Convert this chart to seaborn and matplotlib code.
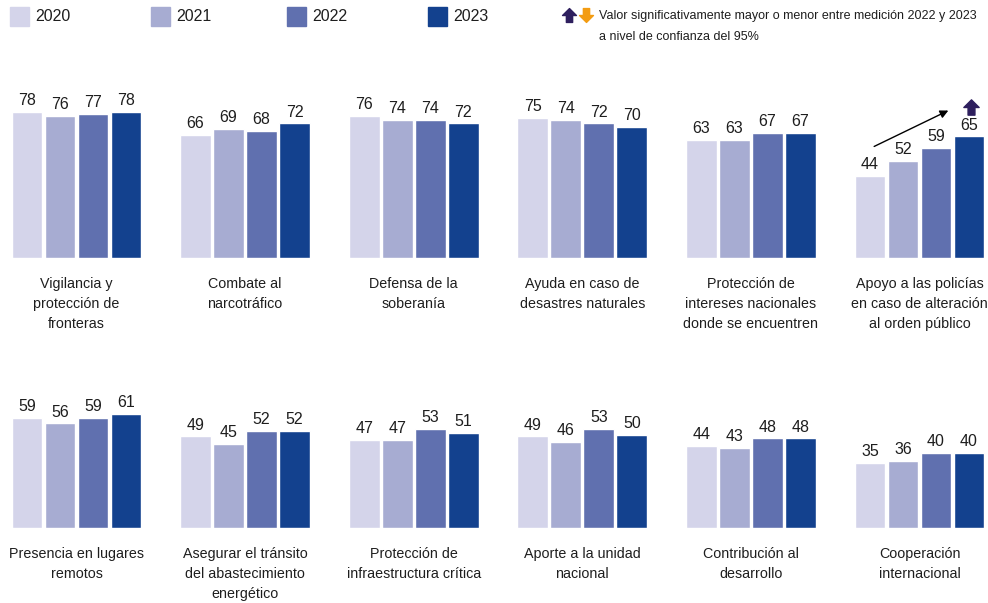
import matplotlib
matplotlib.use("Agg")
import matplotlib.pyplot as plt
import seaborn as sns
import pandas as pd
from matplotlib.path import Path
from matplotlib.patches import Rectangle

sns.set_theme(style="white")
plt.rcParams['font.family'] = ['Liberation Sans', 'DejaVu Sans']

years = ["2020", "2021", "2022", "2023"]
colores = ["#D4D4EA", "#A7ACD2", "#6070AF", "#13418E"]

categorias = [
    "Vigilancia y\nprotección de\nfronteras",
    "Combate al\nnarcotráfico",
    "Defensa de la\nsoberanía",
    "Ayuda en caso de\ndesastres naturales",
    "Protección de\nintereses nacionales\ndonde se encuentren",
    "Apoyo a las policías\nen caso de alteración\nal orden público",
    "Presencia en lugares\nremotos",
    "Asegurar el tránsito\ndel abastecimiento\nenergético",
    "Protección de\ninfraestructura crítica",
    "Aporte a la unidad\nnacional",
    "Contribución al\ndesarrollo",
    "Cooperación\ninternacional",
]
v2020 = [78, 66, 76, 75, 63, 44, 59, 49, 47, 49, 44, 35]
v2021 = [76, 69, 74, 74, 63, 52, 56, 45, 47, 46, 43, 36]
v2022 = [77, 68, 74, 72, 67, 59, 59, 52, 53, 53, 48, 40]
v2023 = [78, 72, 72, 70, 67, 65, 61, 52, 51, 50, 48, 40]
# cambio significativo 2022-2023: 1 = sube, -1 = baja, 0 = nada
signif = [0, 0, 0, 0, 0, 1, 0, 0, 0, 0, 0, 0]

W, H = 988, 603
fig = plt.figure(figsize=(W / 100, H / 100), dpi=100)
texto = "#1e1e1e"
up_color = "#2E1F5E"
down_color = "#F39C12"

arrow_up = Path([(-1, 0), (0, 1), (1, 0), (0.45, 0), (0.45, -1), (-0.45, -1), (-0.45, 0), (-1, 0)],
                [Path.MOVETO] + [Path.LINETO] * 6 + [Path.CLOSEPOLY])
arrow_down = Path([(x, -y) for x, y in arrow_up.vertices], arrow_up.codes)

px_per_unit = 1.87
alto = 90 * px_per_unit
baselines = [258, 528]

for i, cat in enumerate(categorias):
    fila, col = divmod(i, 6)
    left = 10.5 + col * 168.6
    bottom = H - baselines[fila]
    ax = fig.add_axes([left / W, bottom / H, 132 / W, alto / H])
    df = pd.DataFrame({"year": years,
                       "valor": [v2020[i], v2021[i], v2022[i], v2023[i]]})
    sns.barplot(data=df, x="year", y="valor", hue="year", palette=colores,
                width=0.93, legend=False, ax=ax, saturation=1)
    ax.set_xlim(-0.5, 3.5)
    ax.set_ylim(0, 90)
    ax.axis("off")
    for j, v in enumerate(df["valor"]):
        ax.text(j, v + 2, str(v), ha="center", va="bottom", fontsize=11.5, color=texto)
    ax.text(1.5, -10, cat, ha="center", va="top", fontsize=10.3, color=texto,
            linespacing=1.55)
    if signif[i] != 0:
        ax.annotate("", xy=(2.45, v2023[i] + 14.5), xytext=(0.05, v2020[i] + 15),
                    arrowprops=dict(arrowstyle="-|>", color="black", lw=1,
                                    mutation_scale=12))
        ax.plot(3.05, v2023[i] + 15.5, marker=arrow_up if signif[i] > 0 else arrow_down,
                markersize=11, color=up_color if signif[i] > 0 else down_color,
                clip_on=False)

# leyenda
leg_x = [10, 151, 287, 428]
for x, y, c in zip(leg_x, years, colores):
    fig.patches.append(Rectangle((x / W, 1 - 26 / H), 19 / W, 19 / H, color=c,
                                 transform=fig.transFigure, figure=fig))
    fig.text((x + 25) / W, 1 - 16.5 / H, y, ha="left", va="center", fontsize=11.5, color=texto)

lax = fig.add_axes([0, 0, 1, 1], facecolor="none")
lax.set_xlim(0, W)
lax.set_ylim(H, 0)
lax.axis("off")
lax.plot(569, 15, marker=arrow_up, markersize=10, color=up_color)
lax.plot(586, 15, marker=arrow_down, markersize=10, color=down_color)
fig.text(599 / W, 1 - 16 / H, "Valor significativamente mayor o menor entre medición 2022 y 2023",
         ha="left", va="center", fontsize=9.0, color=texto)
fig.text(599 / W, 1 - 37 / H, "a nivel de confianza del 95%",
         ha="left", va="center", fontsize=9.0, color=texto)

fig.savefig("out.png", dpi=100, facecolor="white")
